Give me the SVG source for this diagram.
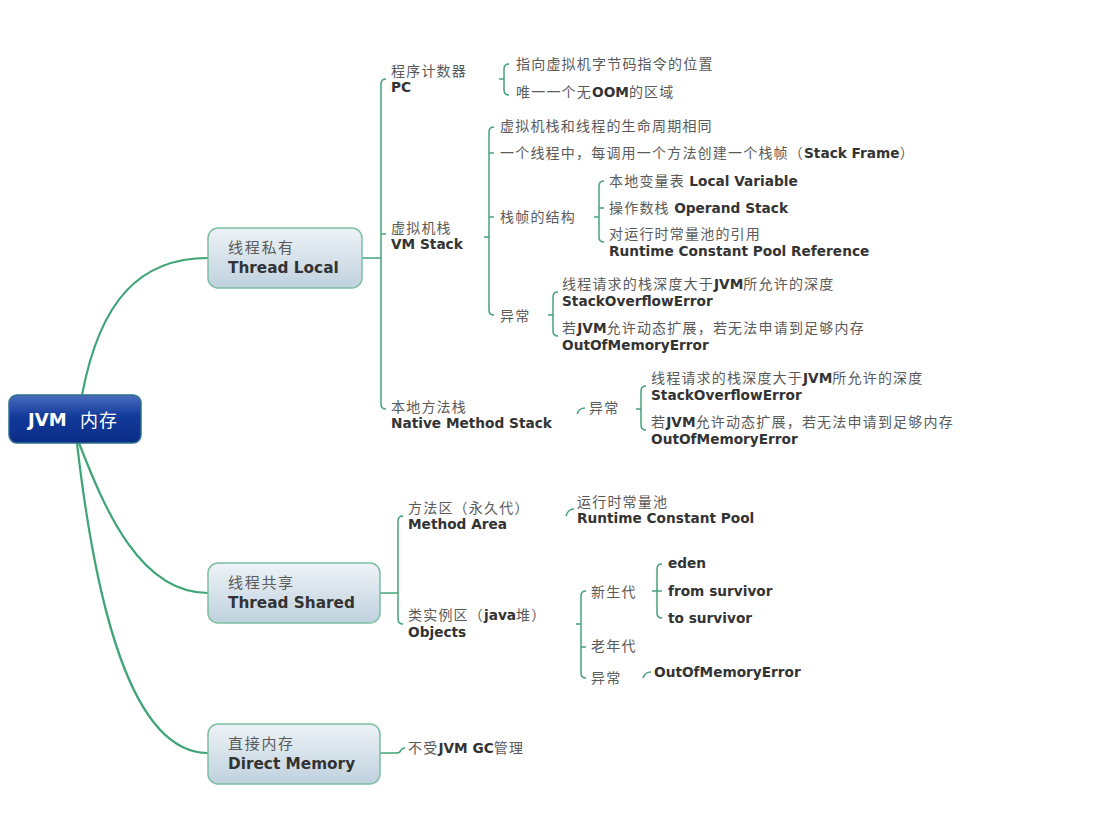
<svg xmlns="http://www.w3.org/2000/svg" width="1104" height="824" viewBox="0 0 1104 824">
<defs>
<linearGradient id="rootGrad" x1="0" y1="0" x2="0" y2="1">
<stop offset="0" stop-color="#4a6cc0"/>
<stop offset="0.45" stop-color="#123a9a"/>
<stop offset="1" stop-color="#0a2c86"/>
</linearGradient>
<linearGradient id="boxGrad" x1="0" y1="0" x2="0" y2="1">
<stop offset="0" stop-color="#eef3f7"/>
<stop offset="1" stop-color="#bfd1de"/>
</linearGradient>
<style>
.cn{font-family:"Noto Sans CJK SC","Noto Sans",sans-serif;font-size:14px;fill:#5a5a5a;letter-spacing:1.2px}
.en{font-family:"DejaVu Sans",Verdana,sans-serif;font-size:13.7px;font-weight:bold;fill:#333;letter-spacing:0}
.bcn{font-family:"Noto Sans CJK SC","Noto Sans",sans-serif;font-size:15px;fill:#5a5a5a;letter-spacing:1.7px}
.ben{font-family:"DejaVu Sans",Verdana,sans-serif;font-size:15.3px;font-weight:bold;fill:#333}
.box{fill:url(#boxGrad);stroke:#7dbfa3;stroke-width:1.5}
.ln{fill:none;stroke:#45a37a;stroke-width:1.5}
.curve{fill:none;stroke:#3fa576;stroke-width:2.2}
</style>
</defs>
<rect width="1104" height="824" fill="#ffffff"/>

<g id="connectors">
<path class="curve" d="M82,395 C100,300 140,258 208,258"/>
<path class="curve" d="M79,443 C105,510 140,593 208,593"/>
<path class="curve" d="M77,443 C95,600 130,753 208,753"/>
<!-- Thread Local bracket -->
<path class="ln" d="M362,258 H381"/>
<path class="ln" d="M386,79 Q381,79 381,84 V404 Q381,409 386,409 M381,234 h5"/>
<!-- PC bracket -->
<path class="ln" d="M509,64 Q504,64 504,69 V90 Q504,95 509,95 M499,79 h5"/>
<!-- VM Stack bracket -->
<path class="ln" d="M494,127 Q489,127 489,132 V310 Q489,315 494,315 M489,153 h5 M489,217 h5 M484,237 h5"/>
<!-- Frame structure bracket -->
<path class="ln" d="M604,181 Q599,181 599,186 V237 Q599,242 604,242 M599,208 h5 M594,217 h5"/>
<!-- VM exception bracket -->
<path class="ln" d="M558,292 Q553,292 553,297 V331 Q553,336 558,336 M548,315 h5"/>
<!-- Native exception -->
<path class="ln" d="M577,414 Q579,408 585,408"/>
<path class="ln" d="M646,386 Q641,386 641,391 V425 Q641,430 646,430 M636,409 h5"/>
<!-- Thread Shared bracket -->
<path class="ln" d="M380,593 H398"/>
<path class="ln" d="M403,516 Q398,516 398,521 V619 Q398,624 403,624"/>
<path class="ln" d="M566,516 Q568,509 574,509"/>
<!-- Objects bracket -->
<path class="ln" d="M586,591 Q581,591 581,596 V673 Q581,678 586,678 M581,647 h5 M576,624 h5"/>
<!-- Young gen bracket -->
<path class="ln" d="M662,564 Q657,564 657,569 V613 Q657,618 662,618 M657,591 h5 M652,591 h5"/>
<path class="ln" d="M643,678 Q645,672 651,672"/>
<!-- Direct memory -->
<path class="ln" d="M380,753 H397 Q400,753 401,750 Q402,748 405,748"/>
</g>

<g id="root">
<rect x="9" y="395" width="132" height="48" rx="8" fill="url(#rootGrad)" stroke="#2f6f8f" stroke-width="1.5"/>
<text x="28" y="426" style="font-family:'DejaVu Sans',Verdana,sans-serif;font-size:18px;font-weight:bold;fill:#ffffff">JVM</text>
<text x="80" y="427" style="font-family:'Noto Sans CJK SC',sans-serif;font-size:18px;fill:#ffffff;letter-spacing:1px">内存</text>
</g>

<g id="thread-local">
<rect class="box" x="208" y="228" width="154" height="60" rx="10"/>
<text class="bcn" x="228" y="253">线程私有</text>
<text class="ben" x="228" y="273">Thread Local</text>
</g>

<g id="thread-shared">
<rect class="box" x="208" y="563" width="172" height="60" rx="10"/>
<text class="bcn" x="228" y="588">线程共享</text>
<text class="ben" x="228" y="608">Thread Shared</text>
</g>

<g id="direct-memory">
<rect class="box" x="208" y="724" width="172" height="60" rx="10"/>
<text class="bcn" x="228" y="749">直接内存</text>
<text class="ben" x="228" y="769">Direct Memory</text>
</g>

<g id="pc">
<text class="cn" x="391" y="76">程序计数器</text>
<text class="en" x="391" y="92">PC</text>
</g>
<g id="pc-1"><text class="cn" x="516" y="69">指向虚拟机字节码指令的位置</text></g>
<g id="pc-2"><text class="cn" x="516" y="97">唯一一个无<tspan class="en">OOM</tspan>的区域</text></g>

<g id="vm-stack">
<text class="cn" x="391" y="233">虚拟机栈</text>
<text class="en" x="391" y="249">VM Stack</text>
</g>
<g id="vm-1"><text class="cn" x="500" y="131">虚拟机栈和线程的生命周期相同</text></g>
<g id="vm-2"><text class="cn" x="500" y="158">一个线程中，每调用一个方法创建一个栈帧（<tspan class="en">Stack Frame</tspan>）</text></g>
<g id="vm-frame"><text class="cn" x="500" y="222">栈帧的结构</text></g>
<g id="frame-1"><text class="cn" x="609" y="186">本地变量表 <tspan class="en">Local Variable</tspan></text></g>
<g id="frame-2"><text class="cn" x="609" y="213">操作数栈 <tspan class="en">Operand Stack</tspan></text></g>
<g id="frame-3">
<text class="cn" x="609" y="239">对运行时常量池的引用</text>
<text class="en" x="609" y="256">Runtime Constant Pool Reference</text>
</g>
<g id="vm-exc"><text class="cn" x="500" y="321">异常</text></g>
<g id="vm-exc-1">
<text class="cn" x="562" y="289">线程请求的栈深度大于<tspan class="en">JVM</tspan>所允许的深度</text>
<text class="en" x="562" y="306">StackOverflowError</text>
</g>
<g id="vm-exc-2">
<text class="cn" x="562" y="333">若<tspan class="en">JVM</tspan>允许动态扩展，若无法申请到足够内存</text>
<text class="en" x="562" y="350">OutOfMemoryError</text>
</g>

<g id="native">
<text class="cn" x="391" y="412">本地方法栈</text>
<text class="en" x="391" y="428">Native Method Stack</text>
</g>
<g id="native-exc"><text class="cn" x="589" y="413">异常</text></g>
<g id="native-exc-1">
<text class="cn" x="651" y="383">线程请求的栈深度大于<tspan class="en">JVM</tspan>所允许的深度</text>
<text class="en" x="651" y="400">StackOverflowError</text>
</g>
<g id="native-exc-2">
<text class="cn" x="651" y="427">若<tspan class="en">JVM</tspan>允许动态扩展，若无法申请到足够内存</text>
<text class="en" x="651" y="444">OutOfMemoryError</text>
</g>

<g id="method-area">
<text class="cn" x="408" y="513">方法区（永久代）</text>
<text class="en" x="408" y="529">Method Area</text>
</g>
<g id="rcp">
<text class="cn" x="577" y="507">运行时常量池</text>
<text class="en" x="577" y="523">Runtime Constant Pool</text>
</g>
<g id="objects">
<text class="cn" x="408" y="620">类实例区（<tspan class="en">java</tspan>堆）</text>
<text class="en" x="408" y="637">Objects</text>
</g>
<g id="young"><text class="cn" x="591" y="597">新生代</text></g>
<g id="eden"><text class="en" x="668" y="568">eden</text></g>
<g id="from"><text class="en" x="668" y="596">from survivor</text></g>
<g id="to"><text class="en" x="668" y="623">to survivor</text></g>
<g id="old"><text class="cn" x="591" y="651">老年代</text></g>
<g id="obj-exc"><text class="cn" x="591" y="683">异常</text></g>
<g id="obj-oom"><text class="en" x="654" y="677">OutOfMemoryError</text></g>

<g id="direct-1"><text class="cn" x="408" y="753">不受<tspan class="en">JVM GC</tspan>管理</text></g>
</svg>
